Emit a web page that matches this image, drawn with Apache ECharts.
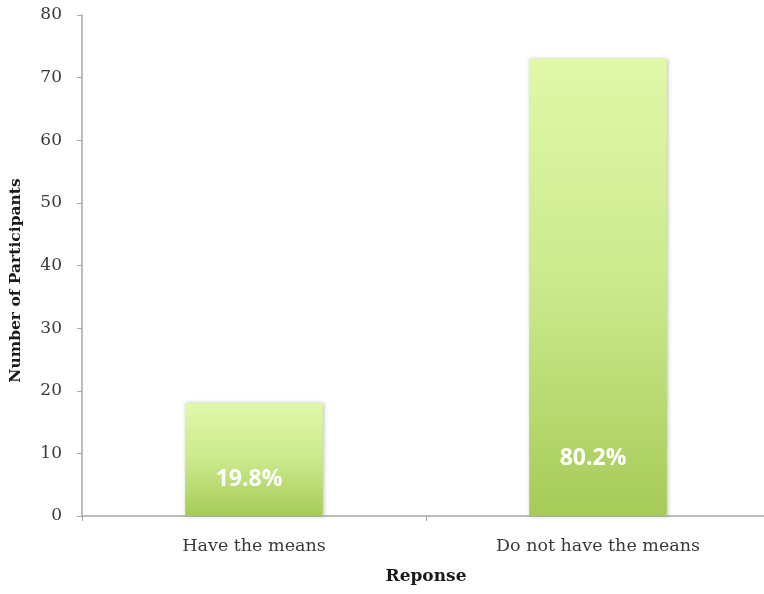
<!DOCTYPE html>
<html>
<head>
<meta charset="utf-8">
<script src="https://cdn.jsdelivr.net/npm/echarts@6/dist/echarts.min.js"></script>
<style>
  html, body { margin: 0; padding: 0; background: #fff; }
  #chart { width: 764px; height: 594px; }
</style>
</head>
<body>
<div id="chart"></div>
<script>
// Survey responses: number of participants per answer
const categories = ['Have the means', 'Do not have the means'];
const participants = [18, 73];
const yTicks = [0, 10, 20, 30, 40, 50, 60, 70, 80];

const total = participants.reduce((a, b) => a + b, 0);
const labelDistances = [25, 46];

const chart = echarts.init(document.getElementById('chart'));
const serif = '"DejaVu Serif", "Liberation Serif", serif';

chart.setOption({
  animation: false,
  grid: { left: 82, right: -6, top: 15, bottom: 78, outerBoundsMode: 'none' },
  xAxis: {
    type: 'category',
    data: categories,
    name: 'Reponse',
    nameLocation: 'middle',
    nameGap: 52,
    nameTextStyle: { fontFamily: serif, fontWeight: 'bold', fontSize: 17, color: '#1a1a1a' },
    axisLine: { lineStyle: { color: '#a6a6a6', width: 1.5 } },
    axisTick: { show: true, length: 5, lineStyle: { color: '#a6a6a6' } },
    axisLabel: { fontFamily: serif, fontSize: 17.5, color: '#3a3a3a', margin: 21 }
  },
  yAxis: {
    type: 'value',
    min: yTicks[0],
    max: yTicks[yTicks.length - 1],
    interval: 10,
    name: 'Number of Participants',
    nameLocation: 'middle',
    nameGap: 58,
    nameTextStyle: { fontFamily: serif, fontWeight: 'bold', fontSize: 15.5, color: '#1a1a1a', padding: [0, 30, 0, 0] },
    axisLine: { show: true, lineStyle: { color: '#a6a6a6', width: 1.5 } },
    axisTick: { show: true, length: 5, lineStyle: { color: '#a6a6a6' } },
    axisLabel: { fontFamily: serif, fontSize: 17, color: '#3a3a3a', margin: 20 },
    splitLine: { show: false }
  },
  series: [{
    type: 'bar',
    barWidth: '40%',
    data: participants.map((v, i) => ({
      value: v,
      label: { distance: labelDistances[i] }
    })),
    itemStyle: {
      color: new echarts.graphic.LinearGradient(0, 0, 0, 1, [
        { offset: 0, color: '#e0f8a8' },
        { offset: 0.5, color: '#cbe98c' },
        { offset: 1, color: '#a6cb58' }
      ]),
      shadowColor: 'rgba(0,0,0,0.25)',
      shadowBlur: 4,
      shadowOffsetX: 1,
      shadowOffsetY: 0
    },
    label: {
      show: true,
      position: 'insideBottom',
      offset: [-5, 0],
      formatter: p => (p.value / total * 100).toFixed(1) + '%',
      color: '#ffffff',
      fontFamily: '"Open Sans", "Liberation Sans", sans-serif',
      fontWeight: 'bold',
      fontSize: 23
    }
  }]
});
</script>
</body>
</html>
